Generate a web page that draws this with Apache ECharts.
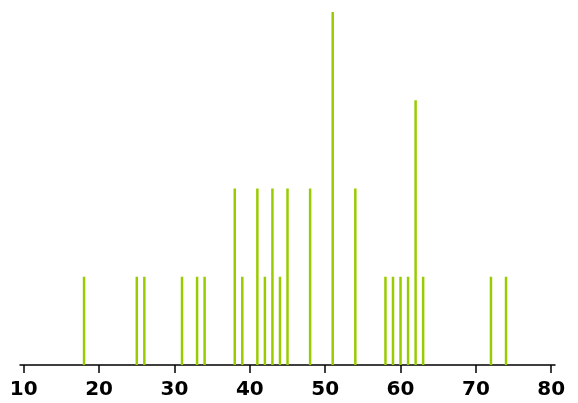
<!DOCTYPE html>
<html>
<head>
<meta charset="utf-8">
<script src="https://cdn.jsdelivr.net/npm/echarts@6/dist/echarts.min.js"></script>
<style>html,body{margin:0;padding:0;background:#fff}#c{width:578px;height:403px}</style>
</head>
<body>
<div id="c"></div>
<script>
const positions = [18, 25, 26, 31, 33, 34, 38, 39, 41, 42, 43, 44, 45, 48, 51, 54, 58, 59, 60, 61, 62, 63, 72, 74];
const counts    = [1, 1, 1, 1, 1, 1, 2, 1, 2, 1, 2, 1, 2, 2, 4, 2, 1, 1, 1, 1, 3, 1, 1, 1];
const tickValues = [10, 20, 30, 40, 50, 60, 70, 80];

const chart = echarts.init(document.getElementById('c'), null, {renderer: 'canvas'});
chart.setOption({
  animation: false,
  backgroundColor: '#ffffff',
  grid: {left: 20, right: 23, top: 12, bottom: 38, containLabel: false},
  xAxis: {
    type: 'value', min: 9.5, max: 80.5,
    axisLine: {show: true, lineStyle: {color: '#000', width: 1.5}},
    axisTick: {show: true, length: 8, lineStyle: {color: '#000', width: 1.5}, customValues: tickValues},
    axisLabel: {show: true, margin: 15, color: '#000', fontSize: 20, fontWeight: 'bold',
      fontFamily: 'DejaVu Sans', customValues: tickValues},
    splitLine: {show: false}
  },
  yAxis: {
    type: 'value', min: 0, max: 4, show: false,
    splitLine: {show: false}
  },
  series: [{
    type: 'bar',
    barWidth: 2.5,
    itemStyle: {color: '#99cc00'},
    data: positions.map((p, i) => [p, counts[i]])
  }]
});
</script>
</body>
</html>
